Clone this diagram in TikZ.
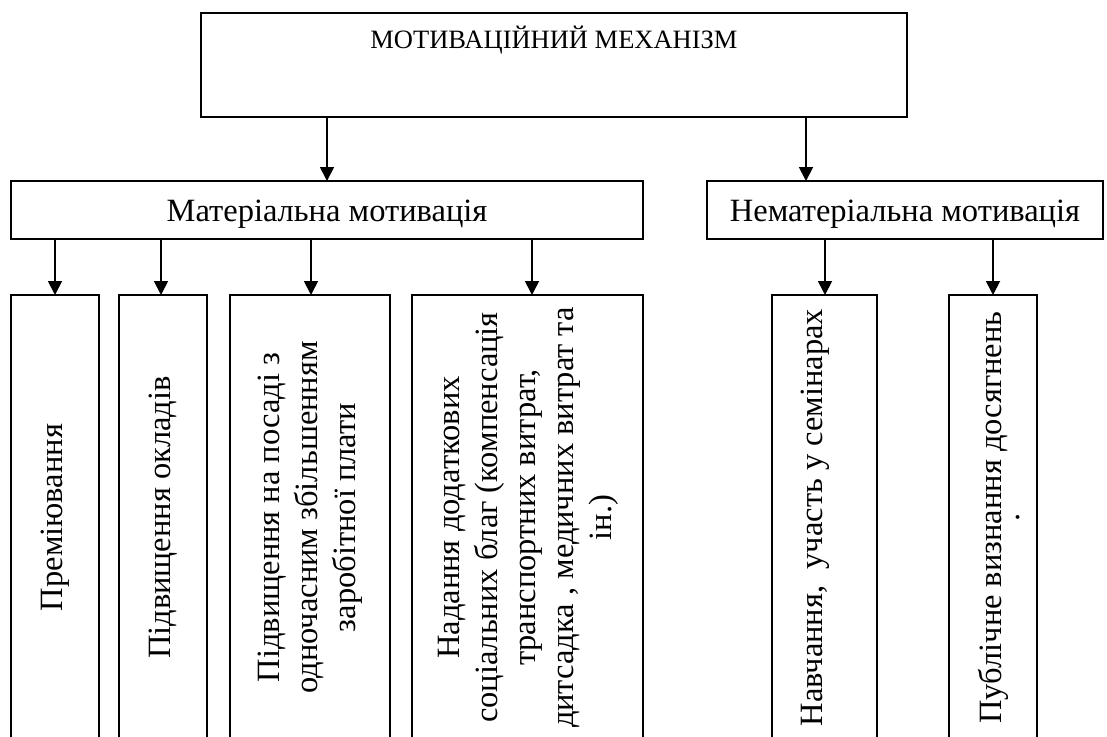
\documentclass[tikz,border=0pt]{standalone}
\usepackage{fontspec}
\setmainfont{Liberation Serif}
\usepackage{graphicx}
\usetikzlibrary{arrows.meta,calc}
\newcommand{\vtext}[1]{\rotatebox{90}{\begin{tabular}{@{}c@{}}#1\end{tabular}}}
\begin{document}
\begin{tikzpicture}[x=1pt,y=-1pt,
  box/.style={draw=black, line width=1.2pt, inner sep=0pt, outer sep=0pt, rectangle, align=center},
  arr/.style={line width=1.8pt, -{Triangle[length=14pt,width=14pt]}},
  bigfont/.style={font=\fontsize{32.5}{38}\selectfont},
  topfont/.style={font=\fontsize{26.5}{30}\selectfont},
  vbox/.style={box, bigfont, minimum height=445pt},
]
\clip (0,0) rectangle (1107,736);
\fill[white] (0,0) rectangle (1107,736);

\node[box, topfont, minimum width=706pt, minimum height=104pt, text height=19pt, text depth=53pt] (top) at (554,65) {МОТИВАЦІЙНИЙ МЕХАНІЗМ};

\node[box, bigfont, minimum width=632pt, minimum height=58pt, text height=24pt, text depth=2pt] (mat) at (327,210) {Матеріальна мотивація};
\node[box, bigfont, minimum width=396pt, minimum height=58pt, text height=24pt, text depth=2pt] (nm) at (905,210) {Нематеріальна мотивація};

\node[vbox, minimum width=88pt] (b1) at (55,517.5) {\vtext{Преміювання}};
\node[vbox, minimum width=88pt] (b2) at (163,517.5) {\vtext{Підвищення окладів}};
\node[vbox, minimum width=160pt] (b3) at (310,517.5) {\vtext{Підвищення на посаді з\\одночасним збільшенням\\заробітної плати}};
\node[vbox, minimum width=231pt] (b4) at (527.5,517.5) {\vtext{Надання додаткових\\соціальних благ (компенсація\\транспортних витрат,\\дитсадка , медичних витрат та\\ін.)}};
\node[vbox, minimum width=105pt] (b5) at (824.5,517.5) {\vtext{Навчання,\ \ участь у семінарах}\hspace*{20pt}};
\node[vbox, minimum width=88pt] (b6) at (993,517.5) {\hspace*{19pt}\vtext{Публічне визнання досягнень\\[-20pt].}};

\coordinate (matin) at (mat.north);
\coordinate (nmin) at ([xshift=-99pt]nm.north);
\coordinate (b1in) at (b1.north);
\coordinate (b2in) at ([xshift=-2pt]b2.north);
\coordinate (b3in) at ([xshift=1pt]b3.north);
\coordinate (b4in) at ([xshift=4.5pt]b4.north);
\coordinate (b5in) at ([xshift=0.5pt]b5.north);
\coordinate (b6in) at (b6.north);

\draw[arr] (top.south -| matin) -- (matin);
\draw[arr] (top.south -| nmin) -- (nmin);
\draw[arr] (mat.south -| b1in) -- (b1in);
\draw[arr] (mat.south -| b2in) -- (b2in);
\draw[arr] (mat.south -| b3in) -- (b3in);
\draw[arr] (mat.south -| b4in) -- (b4in);
\draw[arr] (nm.south -| b5in) -- (b5in);
\draw[arr] (nm.south -| b6in) -- (b6in);
\end{tikzpicture}
\end{document}
